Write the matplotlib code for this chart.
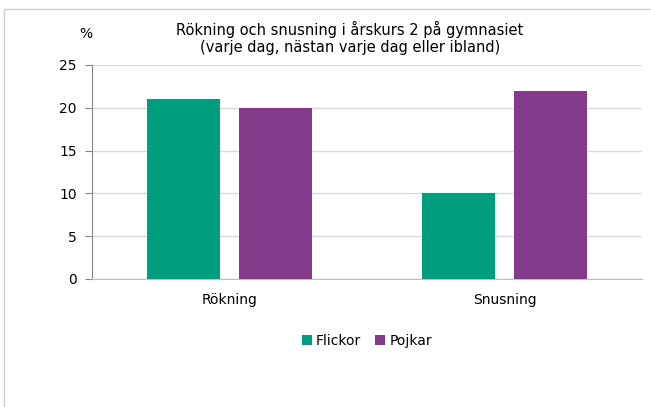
import matplotlib.pyplot as plt
import matplotlib.patches as patches
import numpy as np

categories = ['Rökning', 'Snusning']
flickor = [21, 10]
pojkar = [20, 22]
series_names = ['Flickor', 'Pojkar']
yticks = [0, 5, 10, 15, 20, 25]

green = '#009E7E'
purple = '#833A8B'

fig = plt.figure(figsize=(6.51, 4.07), dpi=100)
ax = fig.add_axes([92 / 651, 1 - 279 / 407, 550 / 651, 214 / 407])

# outer chart frame (left and top edges are visible)
fig.patches.append(patches.Rectangle((4 / 651, -0.1), 1.2, 1 - 9 / 407 + 0.1,
                                     transform=fig.transFigure, fill=False,
                                     edgecolor='#d0d0d0', linewidth=1.0))

x = np.arange(len(categories))
w = 0.265
off = 0.167
ax.bar(x - off, flickor, w, color=green, label=series_names[0], zorder=3)
ax.bar(x + off, pojkar, w, color=purple, label=series_names[1], zorder=3)

ax.set_xlim(-0.5, 1.5)
ax.set_ylim(0, 25)
ax.set_yticks(yticks)
ax.yaxis.grid(True, color='#d9d9d9', linewidth=1.0, zorder=0)
ax.set_xticks(x)
ax.set_xticklabels(categories, fontsize=10)
ax.tick_params(axis='x', length=0, pad=10)
ax.tick_params(axis='y', length=5, color='#868686', labelsize=10, pad=6)
for s in ['top', 'right']:
    ax.spines[s].set_visible(False)
ax.spines['left'].set_color('#868686')
ax.spines['bottom'].set_color('#bfbfbf')

fig.text(350 / 651, 1 - 38 / 407, 'Rökning och snusning i årskurs 2 på gymnasiet\n(varje dag, nästan varje dag eller ibland)',
         ha='center', va='center', fontsize=10.5, linespacing=1.1)
fig.text(86 / 651, 1 - 34 / 407, '%', ha='center', va='center', fontsize=10)

fig.legend(loc='center', bbox_to_anchor=(367 / 651, 1 - 341 / 407), ncol=2,
           frameon=False, fontsize=10, handlelength=0.7, handleheight=0.7,
           handletextpad=0.3, columnspacing=1.0)

fig.savefig('out.png', dpi=100)
